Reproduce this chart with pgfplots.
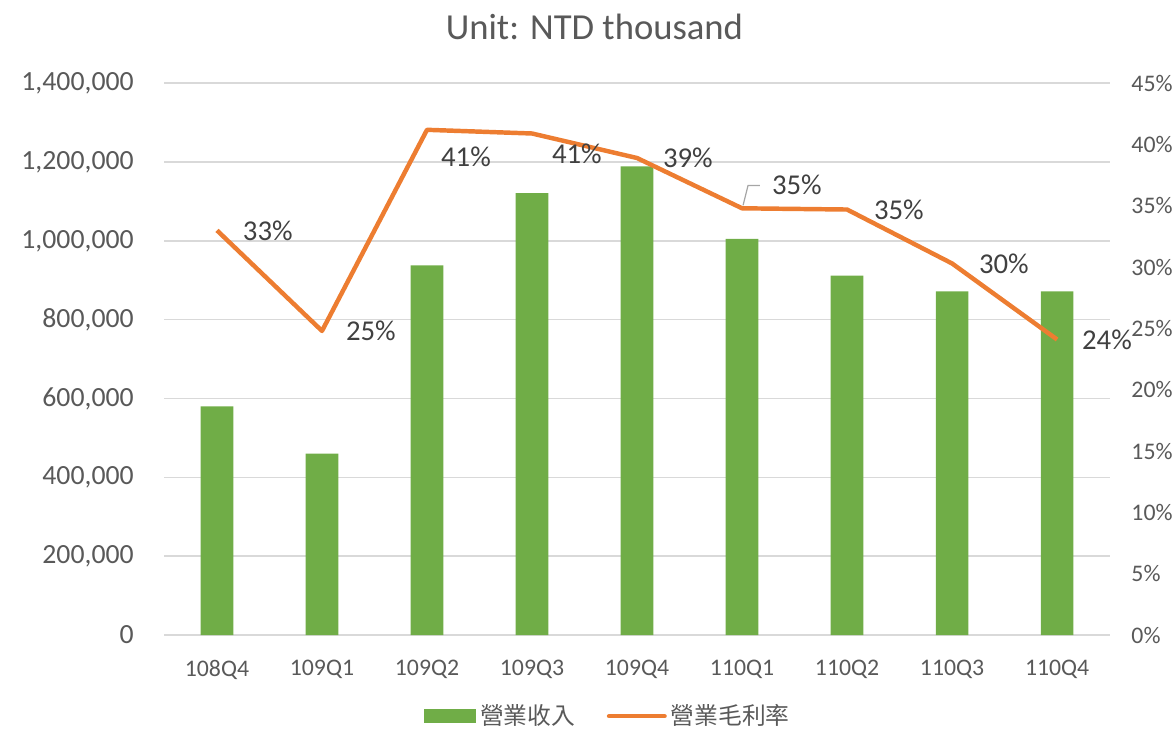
\documentclass[border=0pt]{standalone}
\usepackage{fontspec}
\setmainfont{Carlito}
\newfontfamily\cjk{Noto Sans CJK TC}
\usepackage{pgfplots}
\pgfplotsset{compat=1.18}
\definecolor{barg}{HTML}{70AD47}
\definecolor{lineo}{HTML}{ED7D31}
\definecolor{txt}{HTML}{595959}
\definecolor{lab}{HTML}{404040}
\definecolor{gridc}{HTML}{D9D9D9}
\begin{document}
\begin{tikzpicture}
\begin{axis}[name=main, scale only axis, width=477pt, height=278.5pt,
  xmin=-0.5, xmax=8.5, ymin=0, ymax=1400000,
  xtick={0,...,8},
  xticklabels={108Q4,109Q1,109Q2,109Q3,109Q4,110Q1,110Q2,110Q3,110Q4},
  ytick={0,200000,400000,600000,800000,1000000,1200000,1400000},
  scaled y ticks=false,
  /pgf/number format/fixed, /pgf/number format/1000 sep={,},
  /pgf/number format/assume math mode=true,
  ymajorgrids, grid style={gridc, line width=0.75pt},
  axis line style={draw=none}, tick style={draw=none},
  yticklabel style={font=\fontsize{14}{16}\selectfont, text=txt, xshift=-12pt},
  xticklabel style={font=\fontsize{12}{14}\selectfont, text=txt, yshift=-5pt},
  ybar, bar width=16.5pt, bar shift=0pt]
\addplot[fill=barg, draw=none] coordinates {
  (0,580000) (1,460000) (2,938000) (3,1121000) (4,1189000)
  (5,1005000) (6,912000) (7,872000) (8,872000)};
\end{axis}
\begin{axis}[scale only axis, width=477pt, height=278.5pt,
  xmin=-0.5, xmax=8.5, ymin=0, ymax=45,
  hide x axis, axis y line*=right,
  ytick={0,5,...,45},
  yticklabel={\pgfmathprintnumber{\tick}\%},
  /pgf/number format/assume math mode=true,
  axis line style={draw=none}, tick style={draw=none},
  yticklabel style={font=\fontsize{12}{14}\selectfont, text=txt, xshift=7.5pt},
  legend style={at={(0.47,-0.147)}, anchor=center, draw=none, fill=none,
    legend columns=2, font=\cjk\fontsize{12}{14}\selectfont, text=txt,
    /tikz/every even column/.append style={column sep=14pt}},
  legend cell align=left]
\addlegendimage{legend image code/.code={\fill[barg] (0pt,-3.25pt) rectangle (26pt,3.25pt);}}
\addlegendentry{營業收入}
\addplot[lineo, line width=2.25pt, line join=round, mark=none,
  legend image code/.code={\draw[lineo, line width=2.25pt, line cap=round] (0pt,0pt) -- (28pt,0pt);},
  point meta=y,
  nodes near coords={\pgfmathprintnumber[fixed,precision=0]{\pgfplotspointmeta}\%},
  visualization depends on={value \thisrow{dx}\as\labdx},
  visualization depends on={value \thisrow{dy}\as\labdy},
  every node near coord/.append style={anchor=west, inner sep=0pt,
    xshift=\labdx pt, yshift=\labdy pt, font=\fontsize{14.5}{16}\selectfont, text=lab}]
  table[x=x, y=y] {
x y dx dy
0 33.0 12 0
1 24.8 11 0
2 41.2 6 -13.5
3 40.9 9 -10.5
4 38.9 12 0
5 34.8 14 12
6 34.7 12.5 0
7 30.3 12.5 0
8 24.1 11.5 0
};
\addlegendentry{營業毛利率}
\draw[gray!70, line width=0.6pt] (axis cs:5,34.8) ++(0.5pt,1.5pt) -- ++(2.5pt,10pt) -- ++(6pt,0pt);
\end{axis}
\node[font=\fontsize{18.5}{22}\selectfont, text=txt] at ([shift={(217pt,307pt)}]main.south west) {Unit: NTD thousand};
\pgfresetboundingbox
\path[use as bounding box] ([shift={(-83pt,-48pt)}]main.south west) rectangle ([shift={(510pt,320.5pt)}]main.south west);
\end{tikzpicture}
\end{document}
